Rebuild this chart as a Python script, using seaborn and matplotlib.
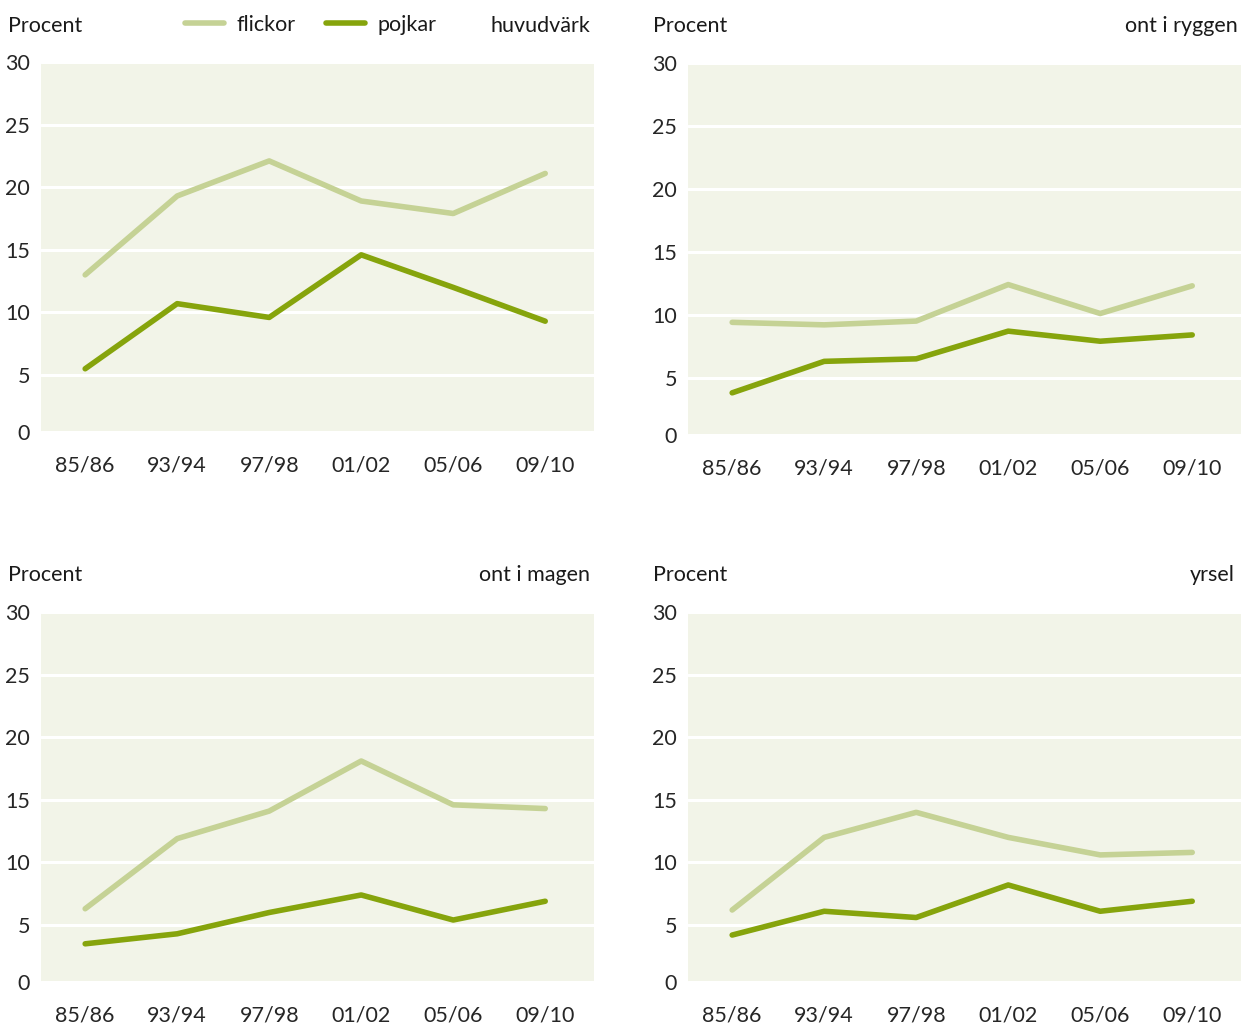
import pandas as pd
import matplotlib
matplotlib.use('Agg')
import matplotlib.pyplot as plt
import seaborn as sns

# data
years = ['85/86', '93/94', '97/98', '01/02', '05/06', '09/10']
titles = ['huvudvärk', 'ont i ryggen', 'ont i magen', 'yrsel']
ytick_labels = ['0', '5', '10', '15', '20', '25', '30']

huvudvark_flickor = [13.0, 19.3, 22.1, 18.9, 17.9, 21.1]
huvudvark_pojkar = [5.5, 10.7, 9.6, 14.6, 12.0, 9.3]
rygg_flickor = [9.4, 9.2, 9.5, 12.4, 10.1, 12.3]
rygg_pojkar = [3.8, 6.3, 6.5, 8.7, 7.9, 8.4]
mage_flickor = [6.3, 11.9, 14.1, 18.1, 14.6, 14.3]
mage_pojkar = [3.5, 4.3, 6.0, 7.4, 5.4, 6.9]
yrsel_flickor = [6.2, 12.0, 14.0, 12.0, 10.6, 10.8]
yrsel_pojkar = [4.2, 6.1, 5.6, 8.2, 6.1, 6.9]

flickor = [huvudvark_flickor, rygg_flickor, mage_flickor, yrsel_flickor]
pojkar = [huvudvark_pojkar, rygg_pojkar, mage_pojkar, yrsel_pojkar]

# stil
sns.set_style('white')
plt.rcParams['font.family'] = ['Lato', 'DejaVu Sans']
plt.rcParams['text.color'] = '#1a1a1a'

bg = '#f2f4e8'
palette = {'flickor': '#c5d295', 'pojkar': '#86a40c'}

W, H = 1241, 1027
fig = plt.figure(figsize=(W / 100, H / 100), dpi=100)

# axes-positioner i pixlar (vänster, topp, höger, botten)
boxes = [(41, 62, 594, 432), (688, 63, 1241, 435),
         (41, 612, 594, 982), (688, 612, 1241, 982)]
label_y = [26, 26, 575, 575]
label_x = [8, 653, 8, 653]
title_x = [590, 1238, 590, 1235]

y_low = 0.45  # skuggningen slutar strax ovanför nollan i originalet

for i in range(4):
    l, t, r, b = boxes[i]
    ax = fig.add_axes([l / W, 1 - b / H, (r - l) / W, (b - t) / H])
    df = pd.DataFrame({
        'år': years * 2,
        'procent': flickor[i] + pojkar[i],
        'kön': ['flickor'] * 6 + ['pojkar'] * 6,
    })
    ax.set_facecolor(bg)
    sns.lineplot(data=df, x='år', y='procent', hue='kön', palette=palette,
                 linewidth=4.0, ax=ax, legend=False, sort=False)
    for line in ax.lines:
        line.set_solid_capstyle('round')
    ax.set_ylim(y_low, 30)
    ax.set_xlim(-0.48, 5.53)
    ax.set_yticks([y_low, 5, 10, 15, 20, 25, 30], labels=ytick_labels)
    ax.yaxis.grid(True, color='white', linewidth=2.2)
    ax.xaxis.grid(False)
    ax.set_axisbelow(True)
    for s in ax.spines.values():
        s.set_visible(False)
    ax.tick_params(axis='y', length=0, pad=8, labelsize=15.5)
    ax.tick_params(axis='x', length=0, pad=17, labelsize=15.5)
    ax.set_xlabel('')
    ax.set_ylabel('')

    fig.text(label_x[i] / W, 1 - label_y[i] / H, 'Procent', fontsize=15.5,
             ha='left', va='center')
    fig.text(title_x[i] / W, 1 - label_y[i] / H, titles[i], fontsize=15.5,
             ha='right', va='center')

# legend överst i första panelen
handles = [plt.Line2D([], [], color=palette['flickor'], linewidth=4.0, solid_capstyle='round'),
           plt.Line2D([], [], color=palette['pojkar'], linewidth=4.0, solid_capstyle='round')]
fig.legend(handles, ['flickor', 'pojkar'], loc='center left',
           bbox_to_anchor=(185 / W, 1 - 25 / H), ncol=2, frameon=False,
           fontsize=15.5, handlelength=1.8, handletextpad=0.6,
           columnspacing=1.4, borderpad=0, borderaxespad=0)

fig.savefig('out.png', dpi=100, facecolor='white')
